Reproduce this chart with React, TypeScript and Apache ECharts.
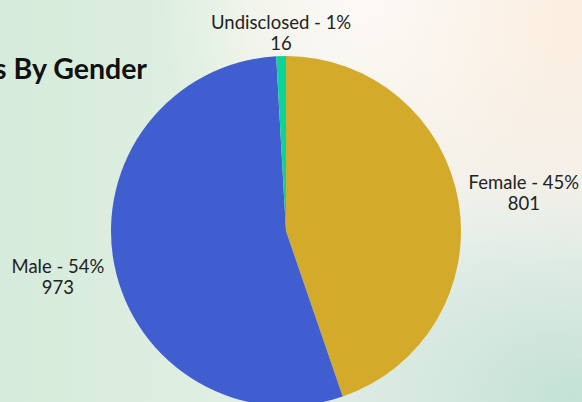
import React, { useEffect, useRef } from "react";
import * as echarts from "echarts";

const categories = ["Female", "Male", "Undisclosed"];
const values = [801, 973, 16];
const colors = ["#D4AA2A", "#415ED1", "#0BD496"];
const titleText = "Employees By Gender";

export default function App() {
  const ref = useRef<HTMLDivElement>(null);
  useEffect(() => {
    if (!ref.current) return;
    const chart = echarts.init(ref.current, undefined, { renderer: "svg" });
    chart.setOption({
      animation: false,
      backgroundColor: "transparent",
      graphic: [
        {
          type: "text",
          x: 147,
          y: 68,
          style: {
            text: titleText,
            align: "right",
            verticalAlign: "middle",
            fontFamily: "Lato",
            fontWeight: "bold",
            fontSize: 28.5,
            fill: "#111111",
          },
        },
      ],
      series: [
        {
          type: "pie",
          center: [286, 231],
          radius: 175,
          startAngle: 90,
          clockwise: true,
          percentPrecision: 0,
          avoidLabelOverlap: false,
          itemStyle: { borderWidth: 0 },
          label: {
            show: true,
            position: "outside",
            formatter: "{b} - {d}%\n{c}",
            fontFamily: "Lato",
            fontSize: 18.5,
            lineHeight: 21,
            color: "#222222",
          },
          labelLine: { show: false, length: 5, length2: 0 },
          labelLayout: (p: any) => {
            if (p.dataIndex === 2) {
              return {
                x: p.rect.x + p.rect.width / 2,
                y: p.rect.y - 3,
                align: "center",
                verticalAlign: "bottom",
              };
            }
            const lr = p.labelRect;
            return {
              x: lr.x + lr.width / 2,
              y: lr.y + lr.height / 2 + (p.dataIndex === 0 ? -9 : 11),
              align: "center",
              verticalAlign: "middle",
            };
          },
          data: categories.map((name, i) => ({
            name,
            value: values[i],
            itemStyle: { color: colors[i] },
          })),
        },
      ],
    });
    return () => chart.dispose();
  }, []);
  return (
    <div
      style={{
        position: "fixed",
        left: 0,
        top: 0,
        width: 582,
        height: 402,
        background:
          "radial-gradient(ellipse at 62% 0%, rgba(253,250,246,1) 0%, rgba(253,250,246,0) 40%)," +
          "radial-gradient(ellipse at 92% 6%, rgba(252,238,224,1) 0%, rgba(252,238,224,0) 45%)," +
          "radial-gradient(ellipse at 98% 98%, rgba(196,226,214,1) 0%, rgba(196,226,214,0) 40%)," +
          "radial-gradient(ellipse at 80% 55%, rgba(238,243,240,1) 0%, rgba(238,243,240,0) 35%)," +
          "linear-gradient(to right, #d6ebdb 0%, #deefe1 35%, #e8f0ea 60%, #f2f1ec 100%)",
      }}
    >
      <div ref={ref} style={{ width: 582, height: 402 }} />
    </div>
  );
}
